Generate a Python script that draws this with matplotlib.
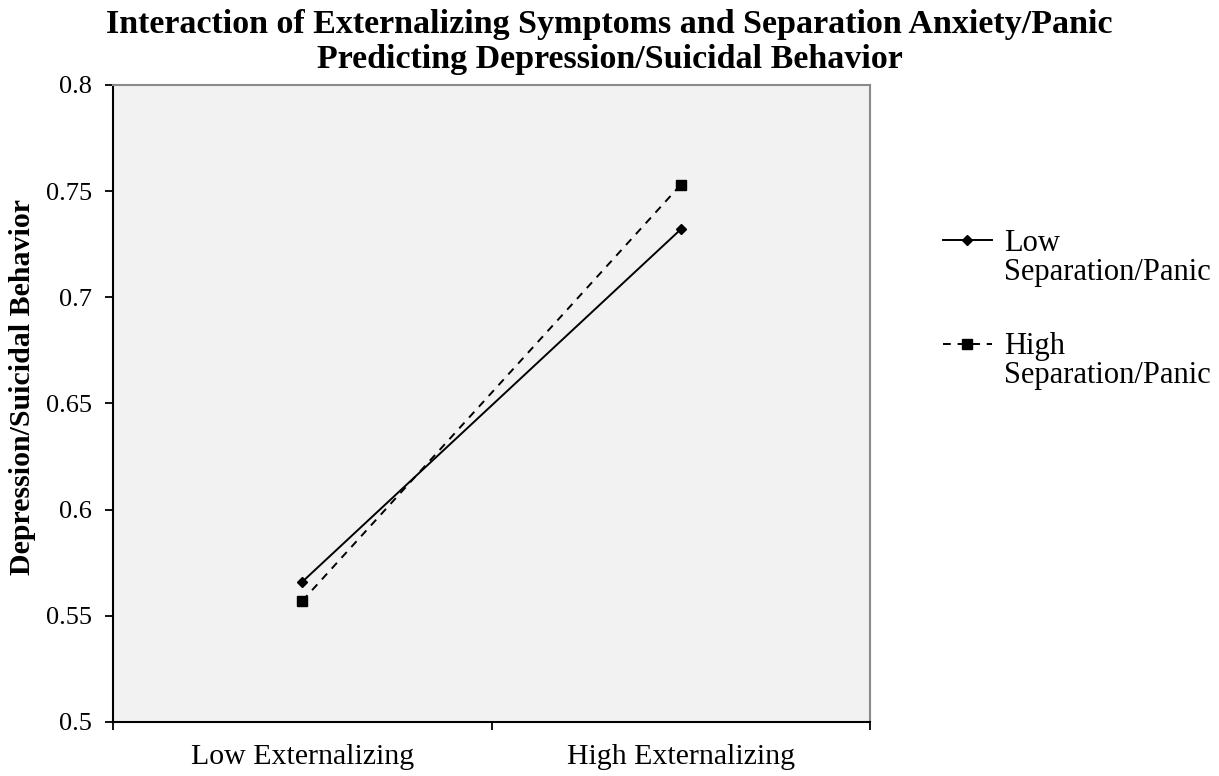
import matplotlib.pyplot as plt

categories = ['Low Externalizing', 'High Externalizing']
low_sep = [0.566, 0.732]
high_sep = [0.557, 0.753]
series_first = ['Low', 'High']
series_second = ['Separation/Panic', 'Separation/Panic']
yticks = [0.5, 0.55, 0.6, 0.65, 0.7, 0.75, 0.8]
ytick_labels = ['0.5', '0.55', '0.6', '0.65', '0.7', '0.75', '0.8']

plt.rcParams['font.family'] = ['Liberation Serif', 'DejaVu Serif']

fig = plt.figure(figsize=(12.19, 7.76), dpi=100)
ax = fig.add_axes([0.0927, 0.0696, 0.621, 0.8209])
ax.set_facecolor('#f2f2f2')

xpos = [i + 0.5 for i in range(len(categories))]
h_low, = ax.plot(xpos, low_sep, color='black', linewidth=1.4, marker='D',
                 markersize=5.5)
h_high, = ax.plot(xpos, high_sep, color='black', linewidth=1.4,
                  linestyle=(0, (4, 3.5)), marker='s', markersize=7)

ax.set_xlim(0, len(categories))
ax.set_ylim(0.5, 0.8)
ax.set_xticks(range(len(categories) + 1))
ax.set_xticklabels([])
ax.set_xticks(xpos, minor=True)
ax.set_xticklabels(categories, minor=True, fontsize=21.5)
ax.tick_params(axis='x', which='minor', length=0, pad=16)
ax.tick_params(axis='x', which='major', length=6, width=1.3, direction='out')
ax.set_yticks(yticks)
ax.set_yticklabels(ytick_labels, fontsize=19)
ax.tick_params(axis='y', length=6, width=1.3, direction='out', pad=9)

for side in ('left', 'bottom'):
    ax.spines[side].set_color('black')
    ax.spines[side].set_linewidth(1.5)
for side in ('top', 'right'):
    ax.spines[side].set_color('#8a8a8a')
    ax.spines[side].set_linewidth(1.5)

ax.set_ylabel('Depression/Suicidal Behavior', fontsize=21.5, fontweight='bold')
ax.yaxis.set_label_coords(-0.1017, 0.526)
fig.suptitle('Interaction of Externalizing Symptoms and Separation Anxiety/Panic\n'
             'Predicting Depression/Suicidal Behavior',
             fontsize=24.5, fontweight='bold', y=0.988, va='top',
             linespacing=1.15)

leg = fig.legend([h_low, h_high], series_first, loc='upper left',
                 bbox_to_anchor=(943 / 1219, 1 - 229 / 776), frameon=False,
                 fontsize=22, handlelength=1.6, handletextpad=0.4,
                 labelspacing=2.43, borderpad=0, borderaxespad=0)

# second line of each legend label sits under the first, handle stays level
# with the first line as in the original
fig.canvas.draw()
for txt, extra in zip(leg.get_texts(), series_second):
    bx, by = txt.get_transform().transform(txt.get_position())
    fig.text(bx, by - 29, extra, fontsize=22, va='baseline', ha='left',
             transform=None)

fig.savefig('out.png', dpi=100)
